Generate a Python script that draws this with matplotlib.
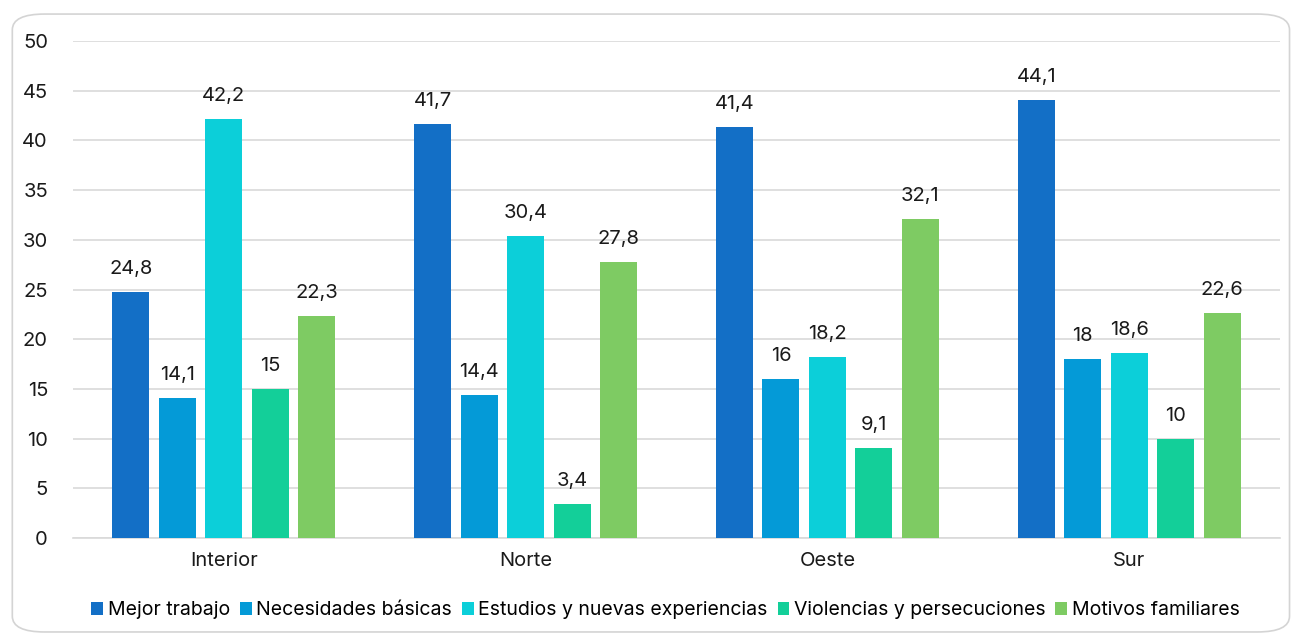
import matplotlib
matplotlib.use("Agg")
import matplotlib.pyplot as plt
import numpy as np
from matplotlib.patches import FancyBboxPatch

regions = ["Interior", "Norte", "Oeste", "Sur"]
series = [
    "Mejor trabajo",
    "Necesidades básicas",
    "Estudios y nuevas experiencias",
    "Violencias y persecuciones",
    "Motivos familiares",
]
mejor_trabajo = [24.8, 41.7, 41.4, 44.1]
necesidades = [14.1, 14.4, 16.0, 18.0]
estudios = [42.2, 30.4, 18.2, 18.6]
violencias = [15.0, 3.4, 9.1, 10.0]
familiares = [22.3, 27.8, 32.1, 22.6]
values = [mejor_trabajo, necesidades, estudios, violencias, familiares]
colors = ["#136fc6", "#049ad7", "#0ccfd9", "#13cf99", "#7ecb63"]

plt.rcParams["font.family"] = ["Inter", "DejaVu Sans"]

fig = plt.figure(figsize=(12.96, 6.39), dpi=100)
ax = fig.add_axes([0.0563, 0.158, 0.9314, 0.7778])

# rounded frame around the whole chart
frame = FancyBboxPatch(
    (0.0095, 0.011), 0.9855, 0.967,
    boxstyle="round,pad=0,rounding_size=0.025",
    transform=fig.transFigure, facecolor="none",
    edgecolor="#d4d4d4", linewidth=1.2, mutation_aspect=639 / 1296 * 2,
)
fig.patches.append(frame)

x = np.arange(len(regions))
width = 0.1225
step = 0.154
for i, (name, vals, color) in enumerate(zip(series, values, colors)):
    pos = x + (i - 2) * step
    bars = ax.bar(pos, vals, width, color=color, label=name, zorder=3)
    for bar, v in zip(bars, vals):
        txt = f"{v:g}".replace(".", ",")
        ax.text(bar.get_x() + bar.get_width() / 2, v + 1.4, txt,
                ha="center", va="bottom", fontsize=14.5, color="#1a1a1a")

ax.set_xlim(-0.5, 3.5)
ax.set_ylim(0, 50)
ax.set_yticks(range(0, 51, 5))
ax.set_xticks(x)
ax.set_xticklabels(regions)
ax.grid(axis="y", color="#d9d9d9", linewidth=1.2, zorder=0)
for side in ["top", "right", "left"]:
    ax.spines[side].set_visible(False)
ax.spines["bottom"].set_color("#d9d9d9")
ax.spines["bottom"].set_linewidth(1.2)
ax.tick_params(axis="both", length=0, labelsize=14.5, colors="#1a1a1a")
ax.tick_params(axis="y", pad=18)
ax.tick_params(axis="x", pad=10)

ax.legend(loc="upper center", bbox_to_anchor=(0.491, -0.092), ncol=5,
          frameon=False, fontsize=14, handlelength=0.6, handleheight=0.6,
          handletextpad=0.25, columnspacing=0.5)

fig.savefig("out.png", dpi=100)
